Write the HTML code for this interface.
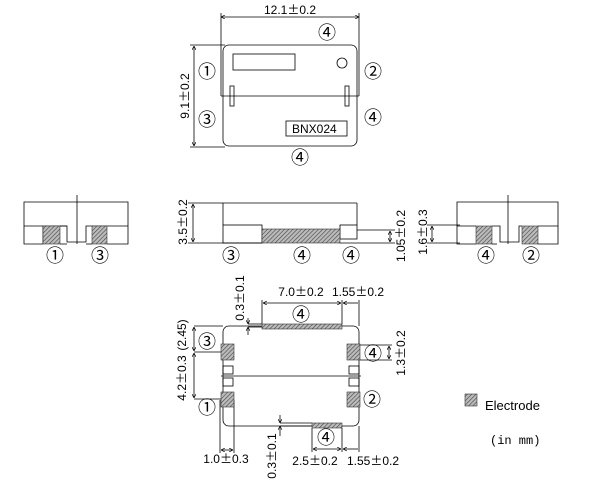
<!DOCTYPE html>
<html><head><meta charset="utf-8"><style>
html,body{margin:0;padding:0;background:#fff;}
svg{display:block;font-family:"Liberation Sans",sans-serif;}
.t{font-size:12px;fill:#000;}
.p{font-family:"Noto Sans CJK JP",sans-serif;}
.c{font-size:18px;fill:#000;font-family:"Noto Sans CJK JP","Liberation Sans",sans-serif;}
</style></head><body>
<svg width="606" height="492" viewBox="0 0 606 492" xmlns="http://www.w3.org/2000/svg">
<defs>
<pattern id="h" width="3" height="3" patternUnits="userSpaceOnUse" patternTransform="rotate(45)">
<rect width="3" height="3" fill="#bbb"/><line x1="0" y1="0" x2="0" y2="3" stroke="#444" stroke-width="1.2"/>
</pattern>
<marker id="a" viewBox="0 0 6 6" refX="6" refY="3" markerWidth="5" markerHeight="5" orient="auto-start-reverse"><path d="M0,0 L6,3 L0,6" fill="none" stroke="#000" stroke-width="1"/></marker>
</defs>
<g fill="none" stroke="#000" stroke-width="0.8">
<line x1="221" y1="17" x2="359" y2="17" marker-start="url(#a)" marker-end="url(#a)"/>
<line x1="221" y1="13" x2="221" y2="96"/><line x1="359" y1="13" x2="359" y2="96"/>
<line x1="194" y1="46" x2="194" y2="146" marker-start="url(#a)" marker-end="url(#a)"/>
<line x1="190" y1="45" x2="225" y2="45"/><line x1="190" y1="147" x2="225" y2="147"/>
<rect x="223" y="45" width="134" height="101" rx="6"/>
<rect x="233" y="54" width="62" height="16"/>
<circle cx="342" cy="63" r="5"/>
<line x1="221" y1="96" x2="359" y2="96"/>
<rect x="230" y="86" width="4" height="20"/><rect x="345" y="86" width="4" height="20"/>
<rect x="286" y="121" width="61" height="15"/>
<polyline points="24,226 24,202 128,202 128,226"/>
<line x1="77" y1="195" x2="77" y2="244"/>
<polyline points="67,226 24,226 24,244 43,244 43,226"/>
<polyline points="60,226 67,226 67,242 86,242 86,226 128,226 128,244 107,244"/>
<line x1="60" y1="244" x2="67" y2="244"/><line x1="86" y1="244" x2="92" y2="244"/>
<line x1="223" y1="203" x2="357" y2="203"/>
<line x1="223" y1="203" x2="223" y2="225"/><line x1="357" y1="203" x2="357" y2="225"/>
<rect x="223" y="225" width="39" height="18"/>
<rect x="340" y="225" width="17" height="14"/>
<line x1="188" y1="203" x2="223" y2="203"/><line x1="188" y1="243" x2="262" y2="243"/>
<line x1="193" y1="204" x2="193" y2="242" marker-start="url(#a)" marker-end="url(#a)"/>
<line x1="357" y1="230" x2="395" y2="230"/><line x1="340" y1="243" x2="395" y2="243"/>
<line x1="390" y1="231" x2="390" y2="242" marker-start="url(#a)" marker-end="url(#a)"/>
<line x1="427" y1="225" x2="460" y2="225"/><line x1="427" y1="243" x2="460" y2="243"/>
<line x1="432" y1="226" x2="432" y2="242" marker-start="url(#a)" marker-end="url(#a)"/>
<polyline points="457,226 457,202 558,202 558,226"/>
<line x1="508" y1="195" x2="508" y2="244"/>
<polyline points="476,226 457,226 457,244 476,244"/>
<polyline points="492,226 500,226 500,242 519,242 519,226 522,226"/>
<polyline points="538,226 558,226 558,244 538,244"/>
<line x1="492" y1="244" x2="497" y2="244"/>
<rect x="223" y="326" width="136" height="100" rx="6"/>
<line x1="221" y1="376" x2="361" y2="376"/>
<rect x="223" y="366" width="10" height="8"/><rect x="223" y="378" width="10" height="8"/>
<rect x="349" y="366" width="10" height="8"/><rect x="349" y="378" width="10" height="8"/>
<line x1="262" y1="300" x2="262" y2="324"/><line x1="342" y1="300" x2="342" y2="324"/><line x1="359" y1="300" x2="359" y2="326"/>
<line x1="263" y1="303" x2="341" y2="303" marker-start="url(#a)" marker-end="url(#a)"/>
<line x1="343" y1="303" x2="358" y2="303" marker-start="url(#a)"/>
<line x1="248" y1="324" x2="262" y2="324"/><line x1="248" y1="327" x2="262" y2="327"/>
<line x1="248" y1="318" x2="248" y2="324" marker-end="url(#a)"/><line x1="248" y1="335" x2="248" y2="327" marker-end="url(#a)"/>
<line x1="194" y1="326" x2="223" y2="326"/><line x1="194" y1="352" x2="234" y2="352"/><line x1="194" y1="399" x2="234" y2="399"/>
<line x1="194" y1="327" x2="194" y2="351" marker-start="url(#a)" marker-end="url(#a)"/>
<line x1="194" y1="353" x2="194" y2="398" marker-start="url(#a)" marker-end="url(#a)"/>
<line x1="360" y1="345" x2="392" y2="345"/><line x1="360" y1="360" x2="392" y2="360"/>
<line x1="389" y1="346" x2="389" y2="359" marker-start="url(#a)" marker-end="url(#a)"/>
<line x1="220" y1="400" x2="220" y2="453"/><line x1="234" y1="400" x2="234" y2="453"/>
<line x1="221" y1="450" x2="233" y2="450" marker-start="url(#a)" marker-end="url(#a)"/>
<line x1="312" y1="428" x2="312" y2="452"/><line x1="342" y1="428" x2="342" y2="452"/><line x1="359" y1="426" x2="359" y2="452"/>
<line x1="313" y1="449" x2="341" y2="449" marker-start="url(#a)" marker-end="url(#a)"/>
<line x1="343" y1="449" x2="358" y2="449" marker-start="url(#a)"/>
<line x1="280" y1="423" x2="312" y2="423"/><line x1="280" y1="426" x2="312" y2="426"/>
<line x1="280" y1="415" x2="280" y2="423" marker-end="url(#a)"/><line x1="280" y1="436" x2="280" y2="426" marker-end="url(#a)"/>
</g>
<g fill="url(#h)" stroke="#333" stroke-width="0.6">
<rect x="43" y="226" width="17" height="18"/><rect x="92" y="226" width="15" height="18"/>
<rect x="262" y="229" width="78" height="14"/>
<rect x="476" y="226" width="16" height="18"/><rect x="522" y="226" width="16" height="18"/>
<rect x="262" y="324" width="80" height="5"/><rect x="312" y="423" width="30" height="5"/>
<rect x="221" y="344" width="13" height="16"/><rect x="221" y="392" width="13" height="15"/>
<rect x="347" y="344" width="13" height="16"/><rect x="347" y="392" width="13" height="15"/>
<rect x="465" y="394" width="12" height="12"/>
</g>
<g class="t">
<text x="290" y="14" text-anchor="middle">12.1<tspan class="p">±</tspan>0.2</text>
<text transform="translate(189,96) rotate(-90)" text-anchor="middle">9.1<tspan class="p">±</tspan>0.2</text>
<text x="292" y="133">BNX024</text>
<text transform="translate(187,222) rotate(-90)" text-anchor="middle">3.5<tspan class="p">±</tspan>0.2</text>
<text transform="translate(405,236) rotate(-90)" text-anchor="middle">1.05<tspan class="p">±</tspan>0.2</text>
<text transform="translate(427,232) rotate(-90)" text-anchor="middle">1.6<tspan class="p">±</tspan>0.3</text>
<text x="301" y="296" text-anchor="middle">7.0<tspan class="p">±</tspan>0.2</text>
<text x="358" y="296" text-anchor="middle">1.55<tspan class="p">±</tspan>0.2</text>
<text transform="translate(244,298) rotate(-90)" text-anchor="middle">0.3<tspan class="p">±</tspan>0.1</text>
<text transform="translate(186,335) rotate(-90)" text-anchor="middle">(2.45)</text>
<text transform="translate(186,378) rotate(-90)" text-anchor="middle">4.2<tspan class="p">±</tspan>0.3</text>
<text transform="translate(405,353) rotate(-90)" text-anchor="middle">1.3<tspan class="p">±</tspan>0.2</text>
<text x="226" y="463" text-anchor="middle">1.0<tspan class="p">±</tspan>0.3</text>
<text x="315" y="465" text-anchor="middle">2.5<tspan class="p">±</tspan>0.2</text>
<text x="373" y="465" text-anchor="middle">1.55<tspan class="p">±</tspan>0.2</text>
<text transform="translate(276,456) rotate(-90)" text-anchor="middle">0.3<tspan class="p">±</tspan>0.1</text>
<text x="485" y="410" style="font-size:13px">Electrode</text>
<text x="490" y="444" style="font-size:12px;font-family:'Liberation Mono',monospace">(in mm)</text>
</g>
<g class="c" text-anchor="middle">
<text x="327" y="39">④</text><text x="207" y="78">①</text><text x="373" y="78">②</text>
<text x="207" y="126">③</text><text x="373" y="124">④</text><text x="300" y="164">④</text>
<text x="55" y="262">①</text><text x="100" y="262">③</text>
<text x="231" y="262">③</text><text x="302" y="262">④</text><text x="351" y="262">④</text>
<text x="486" y="262">④</text><text x="531" y="262">②</text>
<text x="301" y="321">④</text><text x="207" y="348">③</text><text x="373" y="360">④</text>
<text x="207" y="414">①</text><text x="372" y="406">②</text><text x="326" y="444">④</text>
</g>
</svg>
</body></html>
